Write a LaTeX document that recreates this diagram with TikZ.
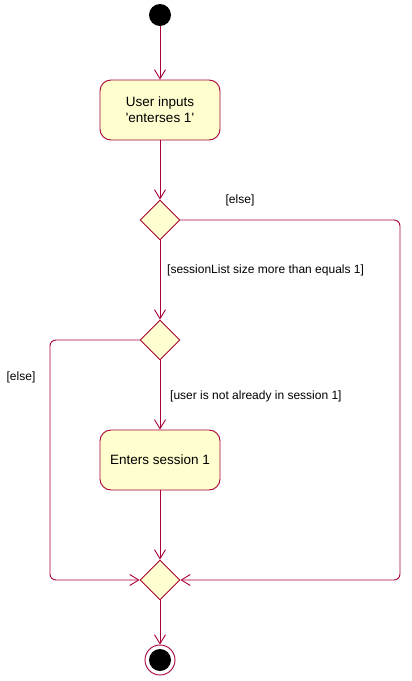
\documentclass[tikz,border=0pt]{standalone}
\usepackage{fontspec}
\setmainfont{Liberation Sans}
\usetikzlibrary{shapes.geometric,arrows.meta}

\definecolor{umlred}{HTML}{A80036}
\definecolor{umlfill}{HTML}{FEFECE}

\tikzset{
  flow/.style={draw=umlred, line width=0.9pt, -{Straight Barb[length=9pt,width=11pt]}},
  branch/.style={draw=umlred, line width=0.9pt, rounded corners=6pt},
  actbox/.style={draw=umlred, fill=umlfill, line width=0.9pt, rounded corners=11pt,
    minimum width=120pt, minimum height=60pt, align=center, font=\fontsize{13.5}{16}\selectfont},
  choice/.style={diamond, draw=umlred, fill=umlfill, line width=0.9pt,
    minimum width=40pt, minimum height=40pt, inner sep=0pt},
  guard/.style={font=\fontsize{12}{14}\selectfont, inner sep=0pt}
}

\begin{document}
\begin{tikzpicture}[x=1pt,y=-1pt]
\useasboundingbox (0,0) rectangle (412,681);

\node[circle, fill=black, minimum size=22pt, inner sep=0pt] (start) at (160,15) {};
\node[actbox] (input) at (160,110) {User inputs\\\textquotesingle enterses 1\textquotesingle};
\node[choice] (sizecheck) at (160,220) {};
\node[choice] (usercheck) at (160,340) {};
\node[actbox] (enter) at (160,460) {Enters session 1};
\node[choice] (merge) at (160,580) {};
\node[circle, draw=umlred, line width=0.9pt, minimum size=30pt, inner sep=0pt] (stop) at (160,660) {};
\node[circle, fill=black, minimum size=22pt, inner sep=0pt] (stopdot) at (160,660) {};

\coordinate (rtop) at (400,220);
\coordinate (rbot) at (400,580);
\coordinate (ltop) at (50,340);
\coordinate (lbot) at (50,580);

\draw[flow] (start) -- (input);
\draw[flow] (input) -- (sizecheck);
\draw[flow] (sizecheck) -- (usercheck);
\draw[flow] (usercheck) -- (enter);
\draw[flow] (enter) -- (merge);
\draw[flow] (merge) -- (stop);

% else branches
\draw[branch, -{Straight Barb[length=9pt,width=11pt]}] (sizecheck.east) -- (rtop) -- (rbot) -- (merge.east);
\draw[branch, -{Straight Barb[length=9pt,width=11pt]}] (usercheck.west) -- (ltop) -- (lbot) -- (merge.west);

\node[guard] (else1) at (240,200) {[else]};
\node[guard, anchor=west] (sizelabel) at (167,270) {[sessionList size more than equals 1]};
\node[guard] (else2) at (21,377) {[else]};
\node[guard, anchor=west] (userlabel) at (170,396) {[user is not already in session 1]};
\end{tikzpicture}
\end{document}
